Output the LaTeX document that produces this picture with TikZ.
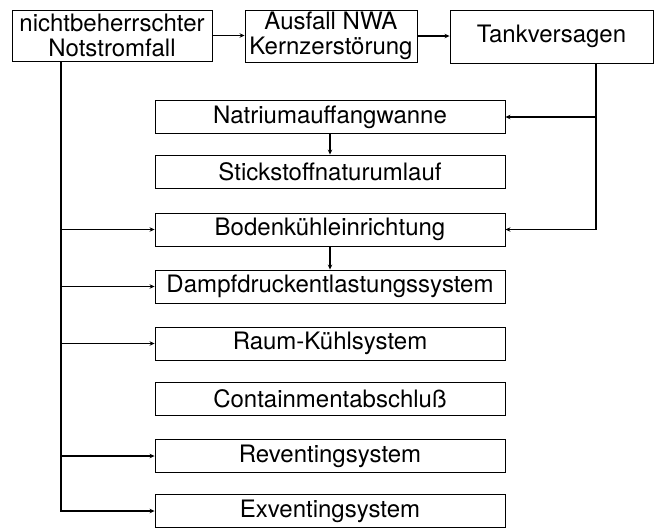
\documentclass[tikz,border=0pt]{standalone}
\usepackage{fontspec}
\setmainfont{TeX Gyre Heros}
\usetikzlibrary{arrows.meta}
\begin{document}
\begin{tikzpicture}[x=1pt,y=-1pt,
  box/.style={draw, line width=0.9pt, inner sep=0pt, align=center,
    font=\fontsize{24}{25}\selectfont},
  topbox/.style={box},
  sysbox/.style={box, minimum width=350pt, minimum height=33pt},
  conn/.style={line width=1.2pt},
  arr/.style={conn, -{Stealth[length=5pt,width=4.5pt]}}]
\useasboundingbox (0,0) rectangle (657,528);

% top row
\node[topbox, minimum width=200pt, minimum height=51pt] (start) at (112,35.5)
  {nichtbeherrschter\\Notstromfall};
\node[topbox, minimum width=172pt, minimum height=52pt] (nwa) at (331,36)
  {Ausfall NWA\\Kernzerstörung};
\node[topbox, minimum width=203pt, minimum height=53pt] (tank) at (551.5,36.5)
  {Tankversagen};

% system column
\node[sysbox] (natr)  at (330,117)   {Natriumauffangwanne};
\node[sysbox] (stick) at (330,171.5) {Stickstoffnaturumlauf};
\node[sysbox] (boden) at (330,229.5) {Bodenkühleinrichtung};
\node[sysbox] (dampf) at (330,286.5) {Dampfdruckentlastungssystem};
\node[sysbox] (raum)  at (330,343.5) {Raum-Kühlsystem};
\node[sysbox] (cont)  at (330,399)   {Containmentabschluß};
\node[sysbox] (rev)   at (330,456)   {Reventingsystem};
\node[sysbox] (exv)   at (330,511)   {Exventingsystem};

% top chain
\draw[arr] (start.east) -- (start.east -| nwa.west);
\draw[arr] (nwa.east) -- (nwa.east -| tank.west);

% column links
\draw[arr] (natr.south) -- (stick.north);
\draw[arr] (boden.south) -- (dampf.north);

% right trunk from Tankversagen
\coordinate (rtop) at (596,63);
\draw[arr] (rtop) |- (boden.east);
\draw[arr] (rtop |- natr.east) -- (natr.east);

% left trunk from the start box
\coordinate (ltop) at (61,61);
\draw[arr] (ltop) |- (exv.west);
\draw[arr] (ltop |- boden.west) -- (boden.west);
\draw[arr] (ltop |- dampf.west) -- (dampf.west);
\draw[arr] (ltop |- raum.west) -- (raum.west);
\draw[arr] (ltop |- rev.west) -- (rev.west);
\end{tikzpicture}
\end{document}
